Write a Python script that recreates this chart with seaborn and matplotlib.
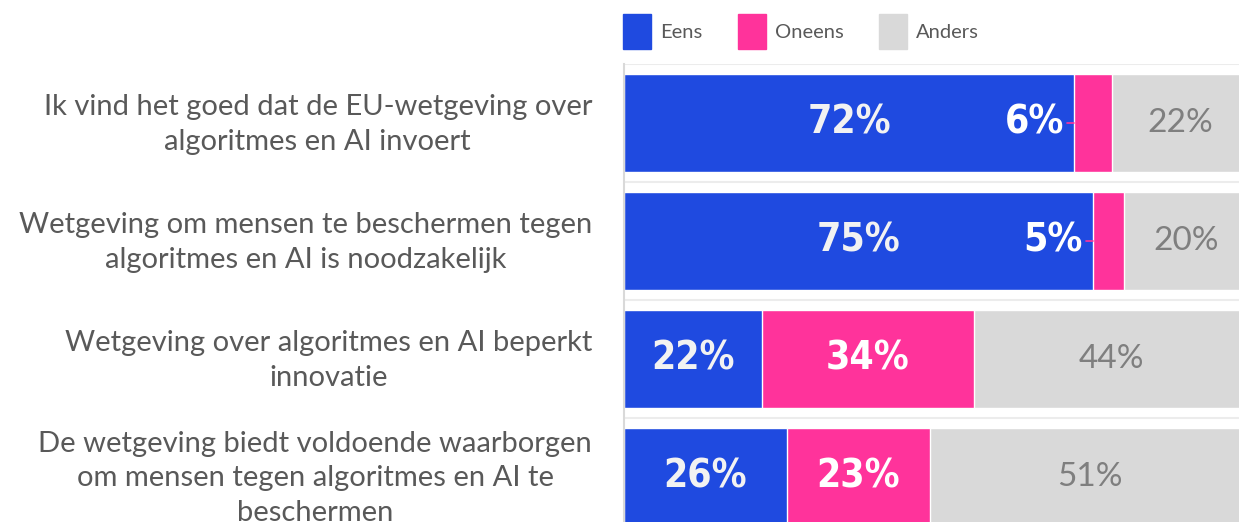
import numpy as np
import pandas as pd
import seaborn as sns
import matplotlib.patches as mpatches
from matplotlib import pyplot as plt

statements = [
    "Ik vind het goed dat de EU-wetgeving over\nalgoritmes en AI invoert",
    "Wetgeving om mensen te beschermen tegen\nalgoritmes en AI is noodzakelijk",
    "Wetgeving over algoritmes en AI beperkt\ninnovatie",
    "De wetgeving biedt voldoende waarborgen\nom mensen tegen algoritmes en AI te\nbeschermen",
]
eens = [72, 75, 22, 26]
oneens = [6, 5, 34, 23]
anders = [22, 20, 44, 51]

series = ["Eens", "Oneens", "Anders"]
colors = {"Eens": "#1f4ae0", "Oneens": "#ff339b", "Anders": "#d9d9d9"}

sns.set_style("white")
plt.rcParams["font.family"] = ["Lato", "DejaVu Sans"]

df = pd.DataFrame({"stelling": statements, "Eens": eens,
                   "Oneens": oneens, "Anders": anders})
df["c_eens"] = df["Eens"]
df["c_oneens"] = df["Eens"] + df["Oneens"]
df["c_anders"] = df["c_oneens"] + df["Anders"]

fig = plt.figure(figsize=(12.39, 5.22), dpi=100)
ax = fig.add_axes([624 / 1239, -14 / 522, 625 / 1239, 472 / 522])

# stacked: draw cumulative totals from the back
for col, name in [("c_anders", "Anders"), ("c_oneens", "Oneens"), ("c_eens", "Eens")]:
    sns.barplot(data=df, x=col, y="stelling", orient="h", color=colors[name],
                width=0.83, saturation=1, ax=ax, zorder=2)

ax.set_xlim(0, 100)
ax.set_ylim(3.5, -0.5)
ax.set_xlabel("")
ax.set_ylabel("")
ax.set_xticks([])
for b in [-0.5, 0.5, 1.5, 2.5]:
    ax.axhline(b, color="#ececec", lw=1.5, zorder=1)
for s in ["right", "bottom", "top"]:
    ax.spines[s].set_visible(False)
ax.spines["left"].set_color("#d9d9d9")
ax.spines["left"].set_linewidth(1.5)

# category labels, right-aligned block with centred lines
ax.set_yticks(range(len(statements)))
ax.set_yticklabels([])
ax.tick_params(axis="y", length=0)
for i, s in enumerate(statements):
    ax.annotate(s, xy=(0, i), xycoords=("axes fraction", "data"),
                xytext=(-23, -1), textcoords="offset points",
                ha="right", va="center", ma="center", fontsize=21,
                color="#595959", linespacing=1.42)

big = dict(family="DejaVu Sans", fontstretch="condensed", fontweight="bold",
           fontsize=28, va="center", ha="center", zorder=5)
for i in range(len(statements)):
    e, o, a = eens[i], oneens[i], anders[i]
    ax.text(e / 2, i, f"{e}%", color="#f2f2f2", **big)
    if o < 10:
        ax.text(e - 1.6, i, f"{o}%", color="white",
                **{**big, "ha": "right"})
        ax.plot([e - 1.1, e], [i, i], color=colors["Oneens"], lw=1.2, zorder=5)
    else:
        ax.text(e + o / 2, i, f"{o}%", color="white", **big)
    ax.text(e + o + a / 2, i, f"{a}%", color="#7f7f7f", fontsize=24,
            va="center", ha="center", zorder=5)

handles = [mpatches.Patch(color=colors[s], label=s) for s in series]
fig.legend(handles=handles, loc="upper left", bbox_to_anchor=(623 / 1239, 1 - 14 / 522),
           ncol=3, frameon=False, fontsize=14.5, handlelength=1.4, handleheight=2.3,
           handletextpad=0.45, columnspacing=1.75, borderpad=0, borderaxespad=0,
           labelcolor="#595959")

fig.savefig("out.png", dpi=100)
